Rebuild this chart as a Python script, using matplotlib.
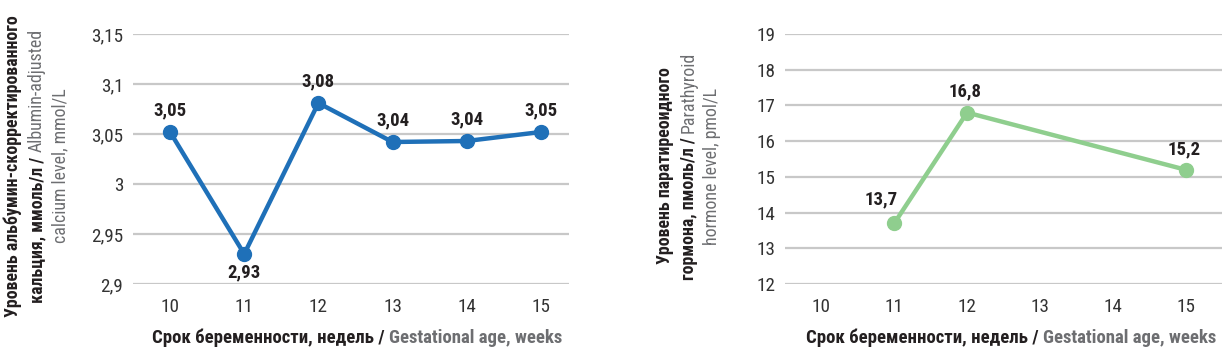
import matplotlib
matplotlib.use("Agg")
import matplotlib.pyplot as plt
from matplotlib import font_manager

# fonts: prefer a narrow face like the original
names = {f.name for f in font_manager.fontManager.ttflist}
if "Liberation Sans Narrow" in names:
    FONT = "Liberation Sans Narrow"
elif "Roboto Condensed" in names:
    FONT = "Roboto Condensed"
else:
    FONT = "Roboto"
plt.rcParams["font.family"] = [FONT, "DejaVu Sans"]

# data
weeks = [10, 11, 12, 13, 14, 15]
calcium = [3.052, 2.930, 3.081, 3.042, 3.043, 3.052]
calcium_ticks = [2.9, 2.95, 3.0, 3.05, 3.1, 3.15]
calcium_tick_labels = ["2,9", "2,95", "3", "3,05", "3,1", "3,15"]

pth_weeks = [11, 12, 15]
pth = [13.7, 16.8, 15.2]
pth_ticks = [12, 13, 14, 15, 16, 17, 18, 19]

BLUE = "#1f70b8"
GREEN = "#8fce8e"
DARK = "#231f20"
GRAY = "#6d6e71"
GRID = "#c8c8c8"

W, H = 1226, 354
fig = plt.figure(figsize=(W / 100, H / 100), dpi=100)


def px_axes(x0, x1, y0, y1):
    return fig.add_axes([x0 / W, 1 - y1 / H, (x1 - x0) / W, (y1 - y0) / H])


def style(ax):
    for s in ax.spines.values():
        s.set_visible(False)
    ax.grid(axis="y", color=GRID, linewidth=1.6)
    ax.set_axisbelow(True)
    ax.tick_params(axis="both", length=0, labelsize=13.8, colors="#333333")
    ax.tick_params(axis="y", pad=7)
    ax.tick_params(axis="x", pad=10)


ax1 = px_axes(133, 569, 34, 284)
style(ax1)
ax1.plot(weeks, calcium, color=BLUE, lw=3.2, marker="o", ms=10, zorder=3)
ax1.set_ylim(2.9, 3.15)
ax1.set_yticks(calcium_ticks, calcium_tick_labels)
ax1.set_xlim(9.5, 15.38)
ax1.set_xticks(weeks)
below = [False, True, False, False, False, False]
for x, y, b in zip(weeks, calcium, below):
    ax1.annotate(f"{y:.2f}".replace(".", ","), (x, y), textcoords="offset pixels",
                 xytext=(0, -18 if b else 22), ha="center", va="center",
                 fontsize=13.5, fontweight="bold", color=DARK)

ax2 = px_axes(785, 1222, 34, 284)
style(ax2)
ax2.plot(pth_weeks, pth, color=GREEN, lw=3.2, marker="o", ms=10, zorder=3)
ax2.set_ylim(12, 19)
ax2.set_yticks(pth_ticks)
ax2.set_xlim(9.5, 15.5)
ax2.set_xticks(weeks)
shift = [(-13, 24), (-2, 21), (-1, 20)]
for x, y, s in zip(pth_weeks, pth, shift):
    ax2.annotate(f"{y:.1f}".replace(".", ","), (x, y), textcoords="offset pixels",
                 xytext=s, ha="center", va="center",
                 fontsize=13.5, fontweight="bold", color=DARK)

fig.canvas.draw()
r = fig.canvas.get_renderer()


def hline(parts, cx, cy, fs):
    # horizontal mixed-colour text centred at (cx, cy) in pixels from top
    ts = [fig.text(0, 0, s, color=c, fontweight=w, fontsize=fs, va="center", ha="left")
          for s, c, w in parts]
    ws = [t.get_window_extent(r).width for t in ts]
    x = cx - sum(ws) / 2
    for t, w in zip(ts, ws):
        t.set_position((x / W, 1 - cy / H))
        x += w


def vline(parts, cx, cy, fs):
    # vertical (rotated 90) mixed-colour text, reading bottom to top
    ts = [fig.text(0, 0, s, color=c, fontweight=w, fontsize=fs, rotation=90,
                   ha="center", va="bottom") for s, c, w in parts]
    hs = [t.get_window_extent(r).height for t in ts]
    y = cy - sum(hs) / 2  # in pixels from bottom
    for t, h in zip(ts, hs):
        t.set_position((cx / W, y / H))
        y += h


for cx in (357, 1011):
    hline([("Срок беременности, недель / ", DARK, "bold"),
           ("Gestational age, weeks", GRAY, "bold")], cx, 338, 13.5)

cy = H - 166
VF = 12.9
vline([("Уровень альбумин-скорректированного", DARK, "bold")], 13, cy, VF)
vline([("кальция, ммоль/л / ", DARK, "bold"), ("Albumin-adjusted", GRAY, "normal")], 37, cy, VF)
vline([("calcium level, mmol/L", GRAY, "normal")], 60, cy, VF)

vline([("Уровень паратиреоидного", DARK, "bold")], 665, cy, VF)
vline([("гормона, пмоль/л / ", DARK, "bold"), ("Parathyroid", GRAY, "normal")], 689, cy, VF)
vline([("hormone level, pmol/L", GRAY, "normal")], 712, cy, VF)

fig.savefig("out.png", dpi=100)
